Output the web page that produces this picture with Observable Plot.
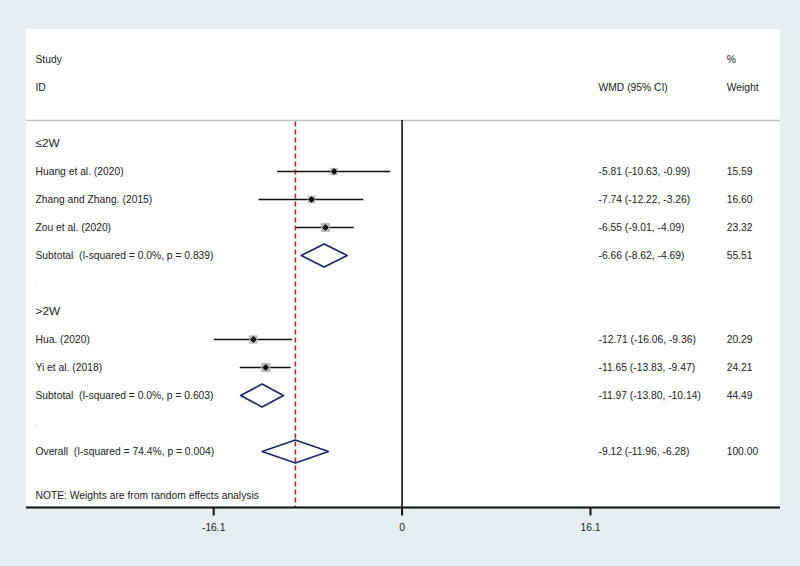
<!DOCTYPE html>
<html>
<head>
<meta charset="utf-8">
<script src="https://cdn.jsdelivr.net/npm/d3@7"></script>
<script src="https://cdn.jsdelivr.net/npm/@observablehq/plot@0.6"></script>
<style>
  html, body { margin: 0; padding: 0; background: #e7eef1; }
  #chart svg { display: block; }
</style>
</head>
<body>
<div id="chart"></div>
<script>
// ---- Data ----
const studies = ["Huang et al. (2020)", "Zhang and Zhang. (2015)", "Zou et al. (2020)", "Hua. (2020)", "Yi et al. (2018)"];
const studyEst = [-5.81, -7.74, -6.55, -12.71, -11.65];
const studyLo = [-10.63, -12.22, -9.01, -16.06, -13.83];
const studyHi = [-0.99, -3.26, -4.09, -9.36, -9.47];
const studyWeight = [15.59, 16.60, 23.32, 20.29, 24.21];
const studyRow = [1, 2, 3, 7, 8];

const pooledLabels = ["Subtotal  (I-squared = 0.0%, p = 0.839)", "Subtotal  (I-squared = 0.0%, p = 0.603)", "Overall  (I-squared = 74.4%, p = 0.004)"];
const pooledEst = [-6.66, -11.97, -9.12];
const pooledLo = [-8.62, -13.80, -11.96];
const pooledHi = [-4.69, -10.14, -6.28];
const pooledWeight = [55.51, 44.49, 100.00];
const pooledRow = [4, 9, 11];

const groupLabels = ["≤2W", ">2W"];
const groupRow = [0, 6];
const spacerRow = [5, 10];

const tickValues = [-16.1, 0, 16.1];
const tickLabels = ["-16.1", "0", "16.1"];
const noteText = "NOTE: Weights are from random effects analysis";

// ---- Layout (scale units: x = WMD, y = row index) ----
const xLeft = -32.1, xRight = 32.34;      // panel / axis extent
const colLabel = -31.33, colCI = 16.79, colW = 27.74;
const rowTop = -4.07, rowSep = -0.82, rowAxis = 13.0;

const fmt = v => v.toFixed(2);
const studyData = studies.map((s, i) => ({label: s, est: studyEst[i], lo: studyLo[i], hi: studyHi[i], w: studyWeight[i], row: studyRow[i]}));
const pooledData = pooledLabels.map((s, i) => ({label: s, est: pooledEst[i], lo: pooledLo[i], hi: pooledHi[i], w: pooledWeight[i], row: pooledRow[i]}));
const allRows = [...studyData, ...pooledData];
const diamondH = 0.41;
const diamondPts = pooledData.flatMap((d, i) => [
  {x: d.lo, y: d.row, k: i}, {x: d.est, y: d.row - diamondH, k: i},
  {x: d.hi, y: d.row, k: i}, {x: d.est, y: d.row + diamondH, k: i},
  {x: d.lo, y: d.row, k: i}
]);
const overall = pooledData[pooledData.length - 1];

const textColor = "#222";
const fs = 10.3;

const chart = Plot.plot({
  width: 800,
  height: 566,
  margin: 0,
  style: {background: "transparent", fontFamily: "'Liberation Sans', Arial, sans-serif", color: textColor},
  x: {domain: [-34.32, 34.05], range: [0, 800], axis: null},
  y: {domain: [-5.107, 15.107], range: [0, 566], axis: null},
  r: {type: "sqrt", domain: [0, 100], range: [0, 10.5]},
  marks: [
    // white panel
    Plot.rect([0], {x1: xLeft, x2: xRight, y1: rowTop, y2: rowAxis, fill: "white"}),
    // header separator
    Plot.ruleY([rowSep], {x1: xLeft, x2: xRight, stroke: "#c4c4c4", strokeWidth: 1.5}),
    // null line
    Plot.ruleX([0], {y1: rowSep, y2: rowAxis, stroke: "#111", strokeWidth: 1.6}),
    // overall effect line
    Plot.ruleX([overall.est], {y1: rowSep + 0.05, y2: rowAxis, stroke: "#c0262d", strokeWidth: 1.7, strokeDasharray: "5,3"}),
    // CIs
    Plot.ruleY(studyData, {y: "row", x1: "lo", x2: "hi", stroke: "#111", strokeWidth: 1.5}),
    // weight boxes
    Plot.dot(studyData, {x: "est", y: "row", r: "w", symbol: "square", fill: "#b9b9b9", stroke: "none"}),
    Plot.dot(studyData, {x: "est", y: "row", r: 2.6, symbol: "diamond2", fill: "#000", stroke: "#000", strokeWidth: 0.8}),
    // pooled diamonds
    Plot.line(diamondPts, {x: "x", y: "y", z: "k", stroke: "#1d2566", strokeWidth: 1.6, curve: "linear"}),
    // axis
    Plot.ruleY([rowAxis], {x1: xLeft, x2: xRight, stroke: "#111", strokeWidth: 2}),
    Plot.ruleX(tickValues, {y1: rowAxis, y2: rowAxis + 0.3, stroke: "#111", strokeWidth: 2}),
    Plot.text(tickValues, {x: d => d, y: rowAxis + 0.71, text: (d, i) => tickLabels[i], fontSize: fs, fill: textColor}),
    // headers
    Plot.text(["Study"], {x: colLabel, y: -3, text: d => d, textAnchor: "start", fontSize: fs, fill: textColor}),
    Plot.text(["ID"], {x: colLabel, y: -2, text: d => d, textAnchor: "start", fontSize: fs, fill: textColor}),
    Plot.text(["WMD (95% CI)"], {x: colCI, y: -2, text: d => d, textAnchor: "start", fontSize: fs, fill: textColor}),
    Plot.text(["%"], {x: colW, y: -3, text: d => d, textAnchor: "start", fontSize: fs, fill: textColor}),
    Plot.text(["Weight"], {x: colW, y: -2, text: d => d, textAnchor: "start", fontSize: fs, fill: textColor}),
    // group headers and spacers
    Plot.text(groupLabels, {x: colLabel, y: (d, i) => groupRow[i], text: d => d, textAnchor: "start", fontSize: fs + 1.5, fill: textColor}),
    Plot.text(spacerRow, {x: colLabel, y: d => d, text: () => ".", textAnchor: "start", fontSize: 7, fill: "#888"}),
    // row labels
    Plot.text(allRows, {x: colLabel, y: "row", text: "label", textAnchor: "start", fontSize: fs, fill: textColor}),
    Plot.text(allRows, {x: colCI, y: "row", text: d => `${fmt(d.est)} (${fmt(d.lo)}, ${fmt(d.hi)})`, textAnchor: "start", fontSize: fs, fill: textColor}),
    Plot.text(allRows, {x: colW, y: "row", text: d => fmt(d.w), textAnchor: "start", fontSize: fs, fill: textColor}),
    // note
    Plot.text([noteText], {x: colLabel, y: 12.57, text: d => d, textAnchor: "start", fontSize: fs, fill: textColor})
  ]
});
document.getElementById("chart").appendChild(chart);
</script>
</body>
</html>
